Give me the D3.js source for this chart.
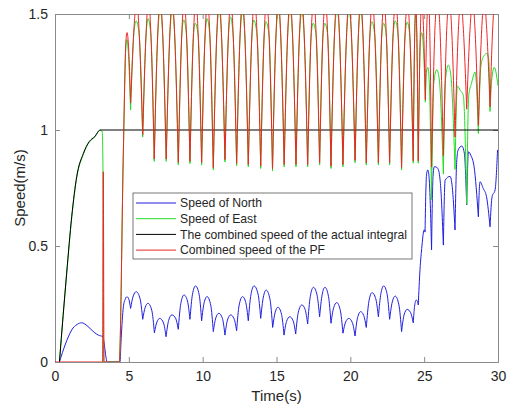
<!DOCTYPE html>
<html>
<head>
<meta charset="utf-8">
<script src="https://cdn.jsdelivr.net/npm/d3@7"></script>
<style>
  body { margin: 0; background: #fff; }
  svg text { font-family: "Liberation Sans", Arial, sans-serif; fill: #262626; }
</style>
</head>
<body>
<div id="canvas"></div>
<script>
"use strict"

/* tick labels */
let xTicks = [0, 5, 10, 15, 20, 25, 30];
let yTicks = [0, 0.5, 1, 1.5];

/* legend entries, in drawing order */
let seriesNames = ["Speed of North", "Speed of East",
    "The combined speed of the actual integral", "Combined speed of the PF"];
let seriesColors = ["#1f1fe0", "#22dd22", "#000000", "#ee2525"];

/* [time (s), speed (m/s)] */
let northSpeed = [
    [0.3, 0], [0.5, 0.04], [0.68, 0.073], [0.9, 0.108], [1.13, 0.138], [1.5, 0.162], [1.81, 0.169],
    [2.1, 0.16], [2.37, 0.145], [2.65, 0.128], [2.93, 0.116], [3.23, 0.109], [3.54, 0], [4.40, 0],
    [4.48, 0.1], [4.63, 0.238], [4.75, 0.27], [4.88, 0.281], [5.0, 0.27], [5.12, 0.231],
    [5.30, 0.285], [5.50, 0.303], [5.76, 0.273], [5.94, 0.184],
    [6.11, 0.236], [6.30, 0.253], [6.56, 0.221], [6.73, 0.126],
    [6.90, 0.172], [7.10, 0.188], [7.35, 0.168], [7.52, 0.109],
    [7.70, 0.180], [7.92, 0.203], [8.17, 0.188], [8.35, 0.141],
    [8.52, 0.252], [8.74, 0.289], [8.97, 0.263], [9.14, 0.184],
    [9.31, 0.292], [9.52, 0.328], [9.76, 0.291], [9.93, 0.178],
    [10.10, 0.256], [10.30, 0.282], [10.55, 0.244], [10.72, 0.131],
    [10.89, 0.190], [11.10, 0.210], [11.34, 0.187], [11.51, 0.116],
    [11.68, 0.181], [11.90, 0.203], [12.13, 0.186], [12.30, 0.135],
    [12.47, 0.245], [12.70, 0.282], [12.92, 0.256], [13.09, 0.178],
    [13.27, 0.291], [13.48, 0.328], [13.75, 0.293], [13.93, 0.188],
    [14.11, 0.280], [14.30, 0.310], [14.56, 0.270], [14.74, 0.149],
    [14.91, 0.214], [15.10, 0.236], [15.34, 0.206], [15.51, 0.116],
    [15.68, 0.175], [15.90, 0.195], [16.13, 0.177], [16.30, 0.121],
    [16.48, 0.215], [16.72, 0.246], [16.94, 0.226], [17.11, 0.164],
    [17.29, 0.283], [17.50, 0.322], [17.74, 0.290], [17.92, 0.195],
    [18.09, 0.290], [18.28, 0.322], [18.52, 0.283], [18.69, 0.167],
    [18.87, 0.234], [19.08, 0.256], [19.32, 0.223], [19.50, 0.124],
    [19.68, 0.172], [19.90, 0.188], [20.14, 0.169], [20.32, 0.112],
    [20.49, 0.191], [20.70, 0.217], [20.91, 0.200], [21.08, 0.149],
    [21.26, 0.262], [21.47, 0.299], [21.72, 0.273], [21.90, 0.195],
    [22.07, 0.295], [22.26, 0.328], [22.49, 0.292], [22.66, 0.184],
    [22.84, 0.259], [23.04, 0.284], [23.29, 0.246], [23.47, 0.131],
    [23.64, 0.203], [23.85, 0.227], [24.08, 0.213], [24.26, 0.169],
    [24.35, 0.240], [24.46, 0.267], [24.54, 0.262], [24.60, 0.246],
    [24.72, 0.40], [24.85, 0.50], [24.94, 0.555], [25.0, 0.57], [25.06, 0.56],
    [25.12, 0.75], [25.17, 0.813], [25.25, 0.828], [25.35, 0.78], [25.50, 0.483],
    [25.6, 0.80], [25.69, 0.842], [25.92, 0.835], [26.1, 0.77], [26.30, 0.504],
    [26.42, 0.784], [26.75, 0.80], [26.9, 0.756], [27.09, 0.569],
    [27.2, 0.86], [27.3, 0.914], [27.55, 0.931], [27.72, 0.90], [27.88, 0.677],
    [28.0, 0.906], [28.15, 0.892], [28.38, 0.842], [28.67, 0.626],
    [28.78, 0.777], [29.0, 0.748], [29.22, 0.713], [29.46, 0.583],
    [29.6, 0.713], [29.8, 0.741], [29.97, 0.914]
];

let eastSpeed = [
    [0.3, 0], [0.55, 0.2], [0.79, 0.38], [1.13, 0.62], [1.47, 0.795], [1.92, 0.895], [2.32, 0.948],
    [2.55, 0.962], [2.71, 0.972], [2.87, 0.988], [3.0, 0.998], [3.2, 0.995], [3.25, 0.82], [3.3, 0],
    [4.35, 0], [4.63, 0.90], [4.8, 1.36], [4.87, 1.39], [4.95, 1.35], [5.12, 1.086],
    [5.36, 1.43], [5.50, 1.47], [5.70, 1.41], [5.94, 0.97],
    [6.17, 1.41], [6.30, 1.48], [6.49, 1.41], [6.72, 0.865],
    [6.96, 1.41], [7.13, 1.52], [7.29, 1.41], [7.53, 0.865],
    [7.78, 1.41], [7.94, 1.52], [8.10, 1.41], [8.35, 0.85],
    [8.59, 1.41], [8.72, 1.475], [8.90, 1.41], [9.14, 0.855],
    [9.38, 1.41], [9.50, 1.46], [9.69, 1.41], [9.93, 0.849],
    [10.17, 1.41], [10.30, 1.48], [10.48, 1.41], [10.72, 0.828],
    [10.96, 1.41], [11.12, 1.52], [11.27, 1.41], [11.51, 0.862],
    [11.75, 1.41], [11.88, 1.487], [12.06, 1.41], [12.30, 0.846],
    [12.54, 1.41], [12.70, 1.51], [12.85, 1.41], [13.09, 0.841],
    [13.34, 1.41], [13.46, 1.474], [13.68, 1.41], [13.93, 0.834],
    [14.17, 1.41], [14.28, 1.467], [14.49, 1.41], [14.73, 0.823],
    [14.97, 1.41], [15.13, 1.52], [15.28, 1.41], [15.52, 0.841],
    [15.76, 1.41], [15.92, 1.52], [16.08, 1.41], [16.32, 0.841],
    [16.56, 1.41], [16.72, 1.51], [16.87, 1.41], [17.11, 0.841],
    [17.35, 1.41], [17.48, 1.46], [17.68, 1.41], [17.92, 0.849],
    [18.15, 1.41], [18.27, 1.46], [18.46, 1.41], [18.69, 0.834],
    [18.93, 1.41], [19.10, 1.52], [19.26, 1.41], [19.50, 0.841],
    [19.75, 1.41], [19.91, 1.52], [20.07, 1.41], [20.32, 0.859],
    [20.55, 1.41], [20.70, 1.52], [20.85, 1.41], [21.08, 0.849],
    [21.33, 1.41], [21.45, 1.467], [21.65, 1.41], [21.90, 0.849],
    [22.13, 1.41], [22.25, 1.46], [22.43, 1.41], [22.66, 0.849],
    [22.90, 1.41], [23.04, 1.47], [23.23, 1.41], [23.47, 0.828],
    [23.71, 1.41], [23.85, 1.465], [24.02, 1.41], [24.26, 0.857],
    [24.36, 1.41], [24.43, 1.50], [24.50, 1.41], [24.60, 0.857],
    [24.74, 1.38], [24.83, 1.42], [24.92, 1.38], [25.0, 1.28], [25.08, 1.12],
    [25.15, 1.25], [25.25, 1.27], [25.35, 1.20], [25.50, 0.70],
    [25.65, 1.20], [25.85, 1.26], [26.02, 1.22], [26.30, 0.81],
    [26.45, 1.22], [26.63, 1.28], [26.80, 1.24], [27.09, 0.83],
    [27.25, 1.19], [27.45, 1.17], [27.65, 1.15], [27.88, 0.68],
    [28.02, 1.15], [28.20, 1.20], [28.45, 1.25], [28.67, 0.985],
    [28.85, 1.28], [29.05, 1.32], [29.25, 1.33], [29.38, 1.30], [29.46, 1.08],
    [29.58, 1.22], [29.75, 1.27], [30.0, 1.19]
];

let actualSpeed = [
    [0.3, 0], [0.55, 0.2], [0.79, 0.383], [1.13, 0.626], [1.47, 0.799], [1.92, 0.899],
    [2.32, 0.95], [2.5, 0.962], [2.71, 0.972], [2.87, 0.988], [3.05, 1.0], [30, 1.0]
];

let pfSpeed = [
    [0, 0], [3.22, 0], [3.27, 0.82], [3.32, 0], [4.35, 0], [4.63, 0.914], [4.8, 1.38], [4.88, 1.42],
    [4.96, 1.38], [5.12, 1.116],
    [5.36, 1.45], [5.53, 1.56], [5.70, 1.42], [5.94, 0.98],
    [6.17, 1.42], [6.33, 1.56], [6.49, 1.42], [6.72, 0.875],
    [6.96, 1.42], [7.13, 1.56], [7.29, 1.42], [7.53, 0.875],
    [7.78, 1.42], [7.94, 1.56], [8.10, 1.42], [8.35, 0.86],
    [8.59, 1.42], [8.75, 1.56], [8.90, 1.42], [9.14, 0.865],
    [9.38, 1.42], [9.54, 1.56], [9.69, 1.42], [9.93, 0.86],
    [10.17, 1.42], [10.33, 1.56], [10.48, 1.42], [10.72, 0.838],
    [10.96, 1.42], [11.12, 1.56], [11.27, 1.42], [11.51, 0.872],
    [11.75, 1.42], [11.91, 1.56], [12.06, 1.42], [12.30, 0.856],
    [12.54, 1.42], [12.70, 1.56], [12.85, 1.42], [13.09, 0.851],
    [13.34, 1.42], [13.51, 1.56], [13.68, 1.42], [13.93, 0.844],
    [14.17, 1.42], [14.33, 1.56], [14.49, 1.42], [14.73, 0.833],
    [14.97, 1.42], [15.13, 1.56], [15.28, 1.42], [15.52, 0.851],
    [15.76, 1.42], [15.92, 1.56], [16.08, 1.42], [16.32, 0.851],
    [16.56, 1.42], [16.72, 1.56], [16.87, 1.42], [17.11, 0.851],
    [17.35, 1.42], [17.52, 1.56], [17.68, 1.42], [17.92, 0.859],
    [18.15, 1.42], [18.31, 1.56], [18.46, 1.42], [18.69, 0.844],
    [18.93, 1.42], [19.10, 1.56], [19.26, 1.42], [19.50, 0.851],
    [19.75, 1.42], [19.91, 1.56], [20.07, 1.42], [20.32, 0.869],
    [20.55, 1.42], [20.70, 1.56], [20.85, 1.42], [21.08, 0.859],
    [21.33, 1.42], [21.49, 1.56], [21.65, 1.42], [21.90, 0.859],
    [22.13, 1.42], [22.28, 1.56], [22.43, 1.42], [22.66, 0.859],
    [22.90, 1.42], [23.07, 1.56], [23.23, 1.42], [23.47, 0.838],
    [23.71, 1.42], [23.87, 1.56], [24.02, 1.42], [24.26, 0.867],
    [24.36, 1.42], [24.43, 1.54], [24.50, 1.42], [24.60, 0.867],
    [24.74, 1.42], [24.84, 1.56], [24.95, 1.45], [25.08, 1.13],
    [25.18, 1.45], [25.29, 1.56], [25.38, 1.42], [25.50, 0.84],
    [25.74, 1.45], [25.90, 1.56], [26.06, 1.45], [26.30, 0.89],
    [26.54, 1.45], [26.70, 1.56], [26.85, 1.45], [27.09, 0.97],
    [27.33, 1.45], [27.49, 1.56], [27.64, 1.45], [27.88, 1.09],
    [28.12, 1.45], [28.28, 1.56], [28.43, 1.45], [28.67, 1.02],
    [28.91, 1.45], [29.07, 1.56], [29.22, 1.45], [29.46, 1.10],
    [29.65, 1.45], [29.80, 1.56], [30.0, 1.52]
];

let allSeries = [northSpeed, eastSpeed, actualSpeed, pfSpeed];

/* canvas */
let width = 514, height = 405;
let margin = {left: 55, top: 14, right: 16, bottom: 43};
let plotW = width - margin.left - margin.right;
let plotH = height - margin.top - margin.bottom;

let drawing = d3.select("#canvas")
    .append("svg")
    .attr("width", width)
    .attr("height", height);

let x = d3.scaleLinear().domain([0, 30]).range([0, plotW]);
let y = d3.scaleLinear().domain([0, 1.5]).range([plotH, 0]);

let plot = drawing.append("g")
    .attr("transform", "translate(" + margin.left + "," + margin.top + ")");

plot.append("rect")
    .attr("width", plotW)
    .attr("height", plotH)
    .attr("fill", "#fff");

/* axes, ticks pointing inward on all four sides */
let axisColor = "#8a8a8a";
function styleAxis(g, hideText) {
    g.select(".domain").attr("stroke", axisColor);
    g.selectAll(".tick line").attr("stroke", axisColor);
    g.selectAll(".tick text")
        .attr("font-size", 14)
        .attr("fill", "#262626")
        .style("display", hideText ? "none" : null);
}

plot.append("g")
    .attr("transform", "translate(0," + plotH + ")")
    .call(d3.axisBottom(x).tickValues(xTicks).tickSize(-5).tickPadding(9).tickFormat(d3.format("")))
    .call(g => styleAxis(g, false));

plot.append("g")
    .call(d3.axisTop(x).tickValues(xTicks).tickSize(-5).tickFormat(""))
    .call(g => styleAxis(g, true));

plot.append("g")
    .call(d3.axisLeft(y).tickValues(yTicks).tickSize(-5).tickPadding(7).tickFormat(d3.format("")))
    .call(g => styleAxis(g, false));

plot.append("g")
    .attr("transform", "translate(" + plotW + ",0)")
    .call(d3.axisRight(y).tickValues(yTicks).tickSize(-5).tickFormat(""))
    .call(g => styleAxis(g, true));

/* data lines, clipped to the axes box */
drawing.append("defs").append("clipPath")
    .attr("id", "plotClip")
    .append("rect")
    .attr("x", 0)
    .attr("y", 0)
    .attr("width", plotW)
    .attr("height", plotH);

/* cut a series at its sharp minima so each arch is smoothed on its own,
   keeping the cusps pointed */
function splitAtMinima(pts) {
    let pieces = [];
    let cur = [pts[0]];
    for (let i = 1; i < pts.length; i++) {
        cur.push(pts[i]);
        if (i < pts.length - 1 && pts[i][1] < pts[i - 1][1] && pts[i][1] < pts[i + 1][1]) {
            pieces.push(cur);
            cur = [pts[i]];
        }
    }
    pieces.push(cur);
    return pieces;
}

let line = d3.line()
    .x(d => x(d[0]))
    .y(d => y(d[1]))
    .curve(d3.curveMonotoneX);

let lines = plot.append("g").attr("clip-path", "url(#plotClip)");

allSeries.forEach((series, i) => {
    lines.append("path")
        .attr("d", splitAtMinima(series).map(p => line(p)).join(""))
        .attr("fill", "none")
        .attr("stroke", seriesColors[i])
        .attr("stroke-width", 1)
        .attr("stroke-linejoin", "round");
});

/* axis titles */
drawing.append("text")
    .attr("x", margin.left + plotW / 2)
    .attr("y", 401)
    .attr("text-anchor", "middle")
    .attr("font-size", 15)
    .text("Time(s)");

drawing.append("text")
    .attr("transform", "translate(25," + (margin.top + plotH / 2) + ") rotate(-90)")
    .attr("text-anchor", "middle")
    .attr("font-size", 15)
    .text("Speed(m/s)");

/* legend */
let legend = drawing.append("g").attr("transform", "translate(133,193)");

legend.append("rect")
    .attr("width", 279)
    .attr("height", 66)
    .attr("fill", "#fff")
    .attr("stroke", "#555")
    .attr("stroke-width", 0.8);

let legendItems = legend.selectAll(".item")
    .data(seriesNames)
    .join("g")
    .attr("class", "item")
    .attr("transform", (d, i) => "translate(0," + (10 + i * 15.7) + ")");

legendItems.append("line")
    .attr("x1", 3)
    .attr("x2", 43)
    .attr("stroke", (d, i) => seriesColors[i])
    .attr("stroke-width", 1);

legendItems.append("text")
    .attr("x", 47)
    .attr("dy", "0.35em")
    .attr("font-size", 12.2)
    .text(d => d);
</script>
</body>
</html>
